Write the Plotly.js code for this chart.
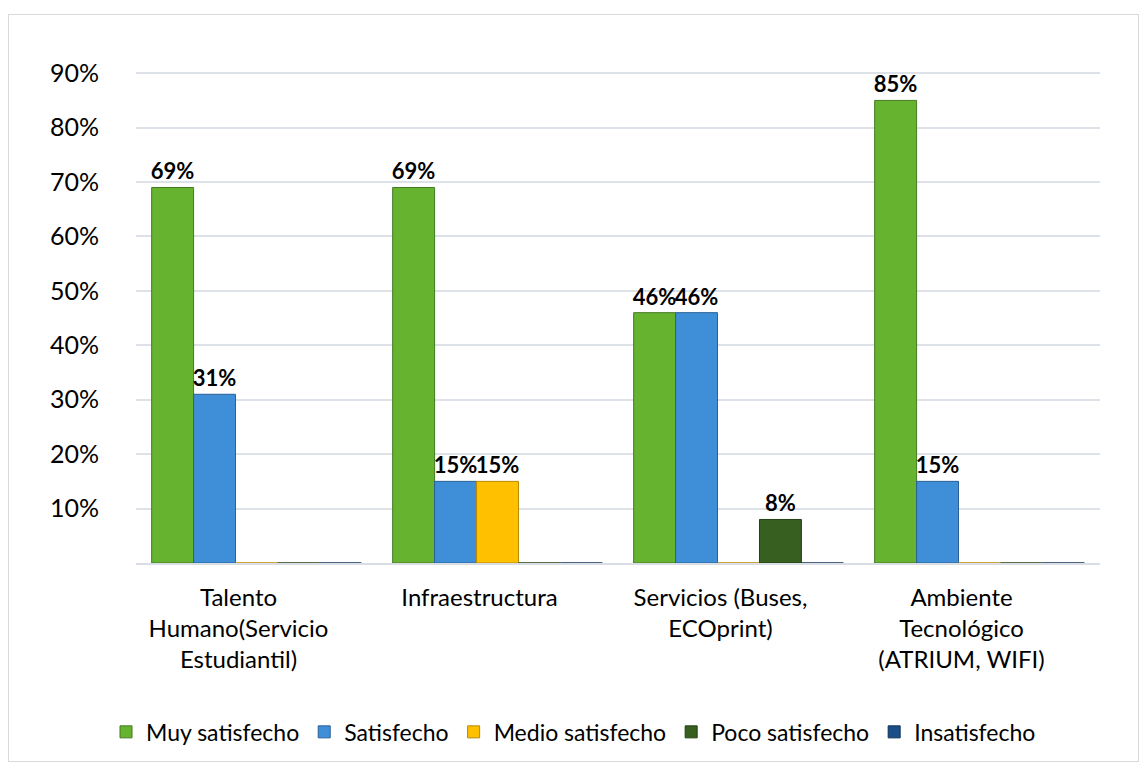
<!DOCTYPE html>
<html>
<head>
<meta charset="utf-8">
<script src="https://cdn.plot.ly/plotly-3.0.1.min.js"></script>
<style>
html,body{margin:0;padding:0;background:#fff;}
#wrap{position:relative;width:1147px;height:764px;}
#chart{position:absolute;left:0;top:0;width:1147px;height:764px;}
#frame{position:absolute;left:8px;top:14px;width:1131px;height:748px;border:1px solid #d9d9d9;pointer-events:none;box-sizing:border-box;}
</style>
</head>
<body>
<div id="wrap"><div id="chart"></div><div id="frame"></div></div>
<script>
const categories = [
  "Talento<br>Humano(Servicio<br>Estudiantil)",
  "Infraestructura",
  "Servicios (Buses,<br>ECOprint)",
  "Ambiente<br>Tecnológico<br>(ATRIUM, WIFI)"
];
const seriesNames = ["Muy satisfecho", "Satisfecho", "Medio satisfecho", "Poco satisfecho", "Insatisfecho"];
const muySatisfecho   = [0.69, 0.69, 0.46, 0.85];
const satisfecho      = [0.31, 0.15, 0.46, 0.15];
const medioSatisfecho = [0.00, 0.15, 0.00, 0.00];
const pocoSatisfecho  = [0.00, 0.00, 0.08, 0.00];
const insatisfecho    = [0.00, 0.00, 0.00, 0.00];
const yTickVals = [0.1, 0.2, 0.3, 0.4, 0.5, 0.6, 0.7, 0.8, 0.9];
const yTickText = ["10%", "20%", "30%", "40%", "50%", "60%", "70%", "80%", "90%"];

const seriesValues = [muySatisfecho, satisfecho, medioSatisfecho, pocoSatisfecho, insatisfecho];
const colors = ["#65b32e", "#3f8fd8", "#ffc000", "#375f1f", "#1a4f8a"];
const edgeColors = ["#447a22", "#2a5f95", "#b88900", "#243f14", "#0f2f55"];

const FONT = "Lato, 'Open Sans', sans-serif";

const traces = seriesValues.map((vals, i) => ({
  type: "bar",
  name: seriesNames[i],
  x: categories,
  y: vals,
  text: vals.map(v => v > 0 ? Math.round(v * 100) + "%" : ""),
  textposition: "outside",
  constraintext: "none",
  textfont: {family: FONT, size: 22, color: "#000"},
  texttemplate: "<b>%{text}</b>",
  cliponaxis: false,
  marker: {color: colors[i], line: {color: edgeColors[i], width: 1}},
  hoverinfo: "skip"
}));

const layout = {
  width: 1147,
  height: 764,
  margin: {l: 136, r: 47, t: 46, b: 201, autoexpand: false},
  paper_bgcolor: "#ffffff",
  plot_bgcolor: "#ffffff",
  barmode: "group",
  bargap: 0.13,
  bargroupgap: 0,
  font: {family: FONT, size: 24, color: "#000"},
  xaxis: {
    type: "category",
    showgrid: false,
    showline: true,
    linecolor: "#d9dde4",
    linewidth: 2,
    ticks: "",
    tickfont: {family: FONT, size: 24, color: "#000"},
    ticklabelstandoff: 12,
    ticklabelshift: -18
  },
  yaxis: {
    range: [0, 0.95],
    tickvals: yTickVals,
    ticktext: yTickText,
    showgrid: true,
    gridcolor: "#dde1e8",
    gridwidth: 2,
    zeroline: false,
    showline: false,
    ticks: "",
    ticklabelstandoff: 36,
    tickfont: {family: FONT, size: 25, color: "#000"}
  },
  showlegend: true,
  legend: {
    orientation: "h",
    x: 0.5,
    xref: "container",
    xanchor: "center",
    y: 0.042,
    yref: "container",
    yanchor: "middle",
    font: {family: FONT, size: 23, color: "#000"},
    itemwidth: 30,
    traceorder: "normal"
  }
};

Plotly.newPlot("chart", traces, layout, {displayModeBar: false, staticPlot: true});
</script>
</body>
</html>
